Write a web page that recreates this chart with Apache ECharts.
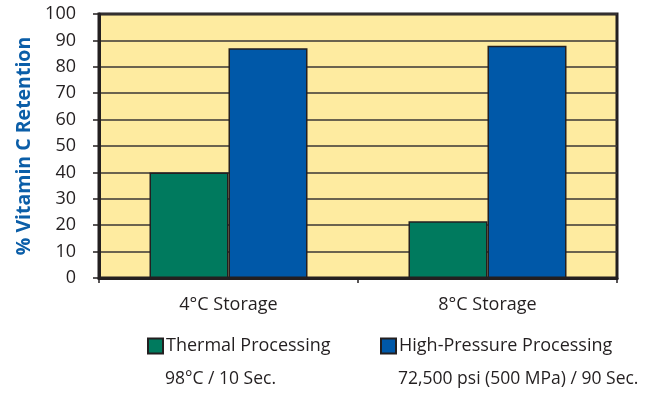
<!DOCTYPE html>
<html>
<head>
<meta charset="utf-8">
<script src="https://cdn.jsdelivr.net/npm/echarts@6/dist/echarts.min.js"></script>
<style>
html,body{margin:0;padding:0;background:#fff;}
#chart{width:646px;height:393px;}
</style>
</head>
<body>
<div id="chart"></div>
<script>
const categories = ['4°C Storage', '8°C Storage'];
const thermalValues = [40, 21.5];
const hppValues = [87, 88];
const seriesNames = ['Thermal Processing', 'High-Pressure Processing'];
const seriesSubtitles = ['98°C / 10 Sec.', '72,500 psi (500 MPa) / 90 Sec.'];
const yTicks = [0, 100, 10];

const FONT = '"Open Sans", "Noto Sans", sans-serif';
const DARK = '#231f20';
const chart = echarts.init(document.getElementById('chart'), null, {renderer: 'canvas'});

const legendLefts = [147, 380];
function legendFor(i) {
  return {
    left: legendLefts[i], top: 337,
    padding: 0,
    data: [seriesNames[i]],
    icon: 'rect',
    itemWidth: 15, itemHeight: 15,
    selectedMode: false,
    textStyle: {fontFamily: FONT, fontSize: 18, color: DARK, padding: [0, 0, 0, -2]}
  };
}

chart.setOption({
  animation: false,
  backgroundColor: '#ffffff',
  grid: {
    left: 99, right: 29, top: 14, bottom: 115,
    show: true, backgroundColor: '#feeba0',
    borderColor: DARK, borderWidth: 3
  },
  legend: [legendFor(0), legendFor(1)],
  graphic: seriesSubtitles.map(function (s, i) {
    return {
      type: 'text', left: legendLefts[i] + 18, top: 370,
      style: {text: s, font: '17.5px ' + FONT, fill: DARK}
    };
  }),
  xAxis: {
    type: 'category',
    data: categories,
    axisLine: {lineStyle: {color: DARK, width: 3}},
    axisTick: {show: true, length: 5, lineStyle: {color: DARK, width: 1.5}},
    axisLabel: {fontFamily: FONT, fontSize: 18, color: DARK, margin: 18}
  },
  yAxis: {
    type: 'value',
    min: yTicks[0], max: yTicks[1], interval: yTicks[2],
    name: '% Vitamin C Retention',
    nameLocation: 'middle',
    nameGap: 64,
    nameTextStyle: {fontFamily: FONT, fontSize: 19.5, fontWeight: 'bold', color: '#0b5ea8'},
    axisLine: {show: true, lineStyle: {color: DARK, width: 3}},
    axisTick: {show: true, length: 6, lineStyle: {color: DARK, width: 1.5}},
    axisLabel: {fontFamily: FONT, fontSize: 18, color: DARK, margin: 23},
    splitLine: {show: true, lineStyle: {color: '#3a3634', width: 1.5}}
  },
  series: [
    {
      name: seriesNames[0], type: 'bar', data: thermalValues,
      barWidth: 79, barGap: '0%',
      itemStyle: {color: '#007a5e', borderColor: DARK, borderWidth: 1.5}
    },
    {
      name: seriesNames[1], type: 'bar', data: hppValues,
      barWidth: 79, barGap: '0%',
      itemStyle: {color: '#0058a8', borderColor: DARK, borderWidth: 1.5}
    }
  ]
});
</script>
</body>
</html>
